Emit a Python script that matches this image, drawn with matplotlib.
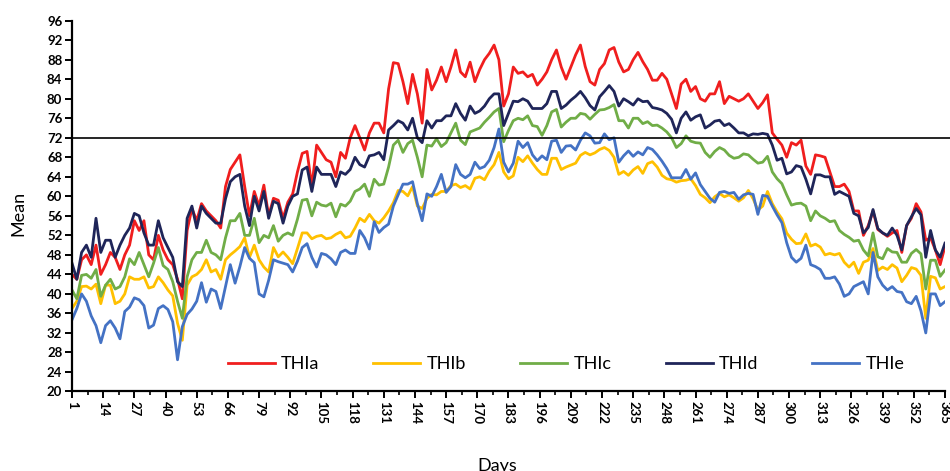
import numpy as np
import matplotlib
matplotlib.use('Agg')
import matplotlib.pyplot as plt

plt.rcParams['font.family'] = ['Lato', 'DejaVu Sans']

# values read every second day (1, 3, 5, ..., 365)
days = np.arange(1, 366, 2)

thi_a = [44, 43, 47, 48, 46, 50, 44, 46, 48.5, 47.5,
         45, 48, 50, 55, 53, 55, 48, 47, 52, 49,
         47, 46, 43, 39, 53, 57.5, 55, 58.5, 57, 56,
         55, 53.5, 62, 65.5, 67, 68.5, 62, 56, 61, 58,
         62.3, 56, 59.6, 59.2, 55.5, 58.8, 60.5, 65, 68.8, 69.2,
         62, 70.5, 69, 67.5, 67, 64, 69, 67.8, 72, 74.5,
         72, 69.5, 73, 75, 75, 73, 82, 87.4, 87.2, 83.5,
         79, 85, 81, 75, 86, 81.8, 83.8, 86.5, 83.5, 86.5,
         90, 85.5, 84.5, 87.5, 83.5, 86, 88, 89.3, 91, 88,
         78.5, 81, 86.5, 85.2, 85.5, 84.5, 85, 82.8, 84, 85.5,
         88, 90, 86.5, 84, 86.5, 89, 91, 86.6, 83.5, 82.8,
         86, 87.2, 90, 90.5, 87.5, 85.5, 86, 88, 89.5, 87.6,
         86, 83.8, 83.8, 85.2, 84, 81, 78, 83, 84, 81.5,
         82.5, 80, 79.5, 81, 81, 83.5, 79, 80.5, 80, 79.5,
         80, 81, 79.5, 78, 79.2, 80.8, 73, 71.7, 70.5, 68,
         71, 70.5, 71.5, 66.2, 64.5, 68.5, 68.3, 68, 65, 62,
         62, 62.5, 61, 57, 57, 52, 54, 57, 53.2, 52.5,
         51.8, 52.5, 53, 48.5, 54, 55.5, 58.5, 56.8, 51, 51.5,
         49, 46, 49.7]

thi_b = [37, 38.5, 41.5, 41.6, 41, 42, 38, 41.8, 41.8, 38,
         38.5, 40, 43.5, 43, 43, 43.5, 41.2, 41.5, 43.5, 42.3,
         40.8, 39.6, 34, 30.5, 41.8, 43.5, 44, 45, 47, 44.5,
         45, 43, 47, 48, 48.8, 49.7, 51.5, 47.5, 50, 47,
         45.5, 44.5, 49.5, 47.6, 48.6, 47.5, 46.2, 49.3, 52.5, 52.5,
         51.3, 51.8, 52, 51.3, 51.5, 52.2, 52.7, 51.5, 51.8, 53.5,
         55.5, 54.8, 56.3, 55, 54.5, 55.6, 57, 58.7, 61.2, 61,
         60.1, 62, 58, 57.5, 59.6, 60.4, 60.3, 61, 61, 62.2,
         62.5, 61.8, 62.2, 61.5, 63.7, 64, 63.4, 65.2, 66.5, 69,
         65, 63.6, 64.2, 68, 67.1, 68.3, 66.8, 65.5, 64.5, 64.5,
         67.8, 67.8, 65.5, 66, 66.4, 66.8, 68.4, 69, 68.5, 68.9,
         69.6, 70, 69.4, 68, 64.5, 65.1, 64.3, 65.4, 66.1, 64.7,
         66.7, 67.1, 66, 64.3, 63.6, 63.4, 62.9, 63.2, 63.3, 63.6,
         62.2, 60.4, 59.7, 58.7, 59.9, 60.6, 59.9, 60.3, 59.7, 59,
         59.7, 61.2, 59.5, 57.2, 58, 61, 58.5, 56.8, 55.4, 52.5,
         51.2, 50.3, 50.4, 52.3, 49.8, 50.2, 49.6, 48, 48.3, 48,
         48.3, 46.5, 45.5, 46.5, 44.2, 46.5, 46.9, 49.3, 44.8, 45.5,
         45, 46, 45.3, 42.5, 43.8, 45.4, 45.1, 43.8, 35, 43.6,
         43.3, 41, 41.5]

thi_c = [40.8, 39, 43.8, 44, 43.2, 45, 39.5, 41.8, 43, 41,
         41.5, 43.5, 47.2, 46, 48.5, 46, 43.5, 46.3, 49.5, 45.8,
         45, 42.5, 38.5, 35, 43.5, 47, 48.5, 48.5, 51, 48.5,
         48, 47, 51.5, 55, 55, 56.5, 52, 52, 55.5, 50.5,
         52, 51.5, 54, 50.8, 52, 52.5, 52, 55.3, 59.2, 59.4,
         56, 58.8, 58.2, 58, 58.6, 55.8, 58.4, 58, 59, 61,
         61.5, 62.5, 60, 63.5, 62.3, 62.5, 66, 70.5, 71.5, 69,
         70.8, 71.5, 68, 64, 70.5, 70.3, 71.8, 70.2, 71, 73,
         75, 71.5, 70.6, 73.2, 73.6, 74, 75.2, 76.2, 77.3, 78,
         71.2, 73.5, 75.5, 76, 75.7, 76.5, 74.5, 74.3, 72.5, 74.5,
         77.3, 77.8, 74.2, 75.2, 76, 76, 77, 76.8, 75.8, 76.8,
         77.7, 77.8, 78.2, 78.8, 75.5, 75.5, 74, 76, 76, 74.9,
         75.3, 74.5, 74.6, 74, 73.2, 72, 70, 70.8, 72.4, 71.3,
         71, 70.9, 69, 68, 69.2, 70, 69.5, 68.4, 67.8, 68,
         68.7, 68.5, 67.6, 66.8, 67, 68.2, 65, 63.6, 62.6, 60.3,
         58.2, 58.5, 58.6, 58, 55, 57, 56, 55.5, 54.8, 55,
         53, 52.2, 51.6, 50.8, 51, 49, 47.8, 52.5, 47.6, 47.2,
         49.3, 48.6, 48.5, 46.5, 46.5, 48.3, 49.1, 48.2, 41, 46.9,
         46.9, 43.6, 44.9]

thi_d = [46.3, 43, 48.5, 50, 47.5, 55.5, 48.5, 51, 51, 47.5,
         50, 52, 53.5, 56.5, 56, 52.5, 50, 50, 55, 51.5,
         49.5, 47.5, 42.5, 41.5, 55.5, 58, 53.5, 58, 56.5, 55.5,
         54.5, 54.5, 59.5, 63, 64, 64.5, 58, 54, 60, 57,
         61, 55.5, 59, 58.5, 54.5, 58, 60, 60.5, 65.4, 66,
         61, 66, 64.5, 64.5, 64.5, 62, 65, 64.5, 65.5, 68,
         66.5, 66, 68.3, 68.5, 69, 67.5, 73.6, 74.5, 75.5, 75,
         73.6, 76, 72, 71, 75.5, 74, 75.5, 75.5, 76.5, 76.5,
         79, 77, 75.6, 78.5, 77, 77.5, 78.5, 80, 81, 81,
         74.5, 77, 79.5, 79.4, 80, 79.5, 78, 78, 78, 79,
         81.5, 81.5, 78, 78.7, 79.7, 80.5, 81.5, 80.2, 78.6, 77.7,
         80.4, 81.5, 82.7, 81.5, 78.5, 80, 79.4, 78.7, 80, 79.4,
         79.5, 78.2, 78, 77.7, 77, 75.8, 73, 76, 77.3, 75.6,
         76.3, 76.7, 74, 74.6, 75.4, 75.6, 74.5, 74.9, 74, 73,
         73, 72.4, 72.8, 72.7, 72.9, 72.7, 70.5, 67.4, 67.8, 64.6,
         65, 66.3, 66, 63.5, 60.5, 64.4, 64.4, 64, 64, 60.4,
         61, 60.5, 60, 56.5, 56, 52.5, 53.6, 57.3, 53.4, 52.5,
         52, 53.5, 52, 49, 54, 55.8, 57.5, 56.2, 47.5, 53,
         49, 47.5, 50.4]

thi_e = [34.7, 37, 40, 38.5, 35.5, 33.5, 30, 33.5, 34.5, 33,
         30.8, 36.4, 37.3, 39.2, 38.8, 37.6, 33, 33.6, 37, 37.6,
         36.8, 34.3, 26.5, 33.3, 35.8, 36.9, 38.5, 42.3, 38.3, 41,
         40.5, 37, 41.5, 46, 42.2, 45.6, 49.5, 47.3, 46.4, 40,
         39.4, 42.8, 47, 46.6, 46.3, 46, 44.5, 46.7, 49.5, 50.3,
         47.5, 45.5, 48.3, 48, 47.2, 46, 48.5, 49, 48.3, 48.3,
         53, 51.5, 49.2, 54.8, 52.6, 53.6, 54.3, 58, 60.3, 62.5,
         62.5, 63, 58.5, 55, 60.5, 60, 62, 64.5, 60.8, 62,
         66.5, 64.5, 63.8, 64.5, 67, 65.7, 66.1, 67.4, 70, 73.8,
         67, 65, 66.8, 71.3, 70, 71, 68.5, 67.3, 68.3, 67.5,
         71.3, 71.5, 69, 70.3, 70.4, 69.5, 71.5, 73, 72.4, 70.9,
         71, 72.8, 71.6, 72, 67, 68.3, 69.3, 68.2, 69.1, 68.5,
         70, 69.6, 68.5, 67.2, 65.7, 63.8, 63.8, 63.8, 65.5, 63.5,
         64.8, 62.4, 61, 59.6, 58.8, 60.8, 61, 60.6, 60.8, 59.4,
         60.3, 60.6, 60.4, 56.3, 60.2, 60, 58, 56.2, 54.6, 50.5,
         47.5, 46.5, 47.3, 50, 46, 45.6, 45, 43.2, 43.2, 43.5,
         42, 39.5, 40, 41.5, 42, 42.5, 40, 48.5, 43.5, 41.8,
         40.8, 41.5, 40.5, 40.3, 38.4, 38, 39.5, 36.5, 32, 40,
         40, 37.6, 38.4]

names = ['THIa', 'THIb', 'THIc', 'THId', 'THIe']
series = [thi_a, thi_b, thi_c, thi_d, thi_e]
colors = ['#F01E1E', '#FFC000', '#70AD47', '#1F2559', '#4472C4']

tick_days = list(range(1, 366, 13))
minor_days = [d + 6.5 for d in tick_days[:-1]]

fig = plt.figure(figsize=(9.5, 4.71), dpi=100)
ax = fig.add_axes([0.0758, 0.1688, 0.9189, 0.7873])

for name, vals, col in zip(names, series, colors):
    ax.plot(days, vals, color=col, linewidth=2.0, label=name)

# reference line runs out to the edge of the picture
ax.axhline(72, xmin=0, xmax=1.006, color='black', linewidth=1.2,
           clip_on=False)

ax.set_xlim(1, 365)
ax.set_ylim(20, 96)
ax.set_yticks(range(20, 97, 4))
ax.set_xticks(tick_days)
ax.set_xticks(minor_days, minor=True)
ax.set_xticklabels([str(d) for d in tick_days], rotation=-90,
                   fontsize=9.5, fontweight='bold')
ax.set_yticklabels([str(v) for v in range(20, 97, 4)],
                   fontsize=9.5, fontweight='bold')

ax.spines['top'].set_visible(False)
ax.spines['right'].set_visible(False)
ax.spines['left'].set_linewidth(1.6)
ax.spines['bottom'].set_linewidth(1.6)
ax.tick_params(axis='both', which='major', direction='out', length=5,
               width=1.4, pad=2)
ax.tick_params(axis='x', which='minor', direction='out', length=3, width=1.2)

ax.legend(loc='center', bbox_to_anchor=(0.566, 0.074), ncol=5,
          frameon=False, fontsize=13, handlelength=2.6,
          handletextpad=0.35, columnspacing=3.0)

fig.text(18 / 950, 1 - 213 / 471, 'Mean', rotation=90, ha='center',
         va='center', fontsize=13)
fig.text(497 / 950, 0.028, 'Days', ha='center', va='top', fontsize=13)

fig.savefig('out.png', dpi=100)
